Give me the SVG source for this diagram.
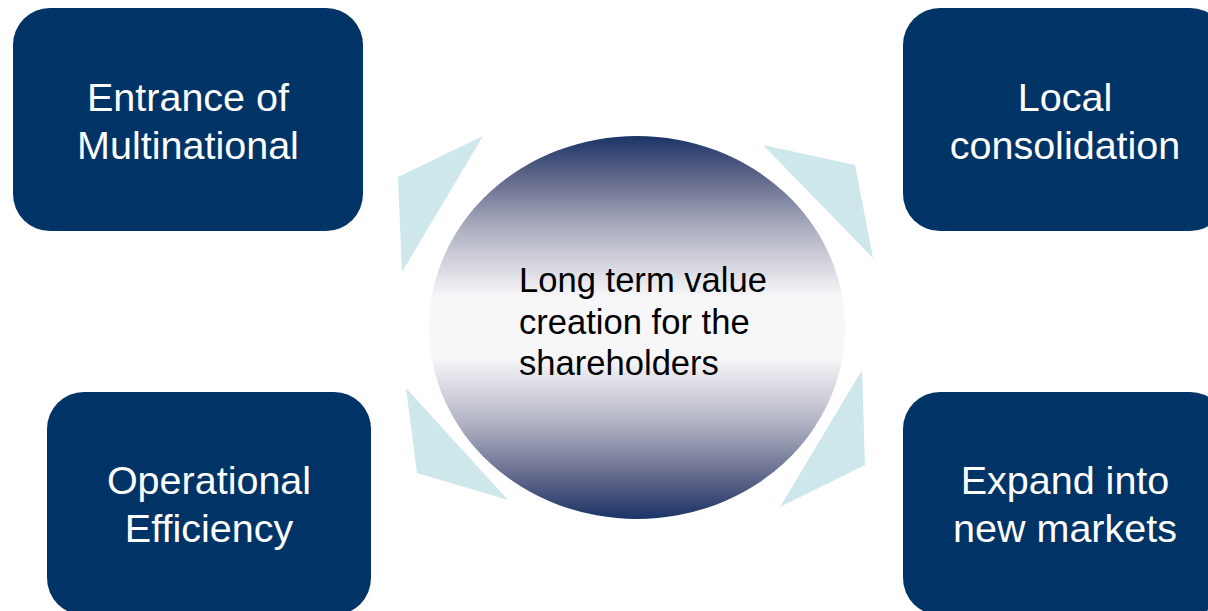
<svg xmlns="http://www.w3.org/2000/svg" width="1208" height="611" viewBox="0 0 1208 611">
  <style>
    .box { fill: #003366; }
    .box-label { font-family: "Liberation Sans", Arial, sans-serif; font-size: 39.5px; fill: #ffffff; text-anchor: middle; }
    .hub-label { font-family: "Liberation Sans", Arial, sans-serif; font-size: 34.6px; fill: #000000; }
    .cycle-arrow { fill: #cde7eb; }
  </style>
  <defs>
    <linearGradient id="hubFill" x1="0" y1="0" x2="0" y2="1">
      <stop offset="0" stop-color="#1a3466"/>
      <stop offset="0.1" stop-color="#5c6387"/>
      <stop offset="0.25" stop-color="#b1b3c3"/>
      <stop offset="0.42" stop-color="#f7f7f9"/>
      <stop offset="0.58" stop-color="#f7f7f9"/>
      <stop offset="0.75" stop-color="#b1b3c3"/>
      <stop offset="0.9" stop-color="#5c6387"/>
      <stop offset="1" stop-color="#1a3466"/>
    </linearGradient>
  </defs>

  <rect width="1208" height="611" fill="#ffffff"/>

  <!-- cycle arrows between the driver boxes -->
  <g id="connectors">
    <polygon class="cycle-arrow" points="398,177 483,136 402,272"/>
    <polygon class="cycle-arrow" points="763,145 855,165 873,258"/>
    <polygon class="cycle-arrow" points="862,370 865,465 780,507"/>
    <polygon class="cycle-arrow" points="406,388 417,473 508,500"/>
  </g>

  <g id="hub">
    <ellipse cx="637" cy="327.5" rx="208" ry="191.5" fill="url(#hubFill)"/>
    <text class="hub-label" x="519" y="292">Long term value</text>
    <text class="hub-label" x="519" y="333.5">creation for the</text>
    <text class="hub-label" x="519" y="375">shareholders</text>
  </g>

  <g id="entrance-multinational">
    <rect class="box" x="13" y="8" width="350" height="223" rx="37" ry="37"/>
    <text class="box-label" x="188" y="111">Entrance of</text>
    <text class="box-label" x="188" y="159">Multinational</text>
  </g>

  <g id="local-consolidation">
    <rect class="box" x="903" y="8" width="324" height="223" rx="37" ry="37"/>
    <text class="box-label" x="1065" y="111">Local</text>
    <text class="box-label" x="1065" y="159">consolidation</text>
  </g>

  <g id="operational-efficiency">
    <rect class="box" x="47" y="392" width="324" height="223" rx="37" ry="37"/>
    <text class="box-label" x="209" y="494">Operational</text>
    <text class="box-label" x="209" y="542">Efficiency</text>
  </g>

  <g id="expand-new-markets">
    <rect class="box" x="903" y="392" width="324" height="223" rx="37" ry="37"/>
    <text class="box-label" x="1065" y="494">Expand into</text>
    <text class="box-label" x="1065" y="542">new markets</text>
  </g>
</svg>
